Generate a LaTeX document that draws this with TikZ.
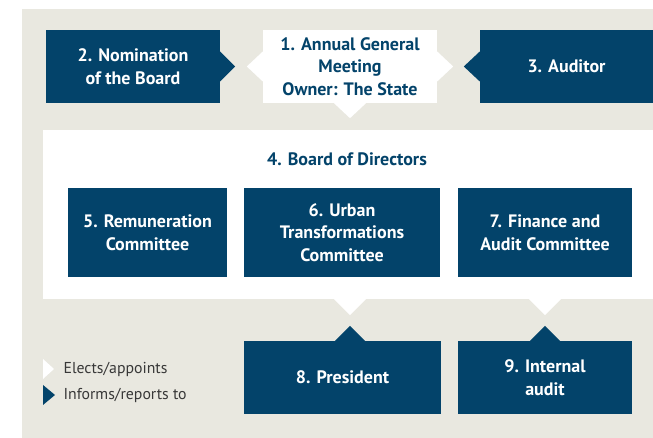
\documentclass[tikz,border=0pt]{standalone}
\usepackage{fontspec}
\setmainfont{PT Sans}
\definecolor{navy}{HTML}{03436A}
\definecolor{sand}{HTML}{E9E8E0}

\begin{document}
\begin{tikzpicture}[x = 1pt, y = 1pt,
		box/.style = {fill = navy, text = white, font = \bfseries\fontsize{18}{22.5}\selectfont, align = center, inner sep = 0pt, minimum height = 73pt},
		wbox/.style = {box, fill = white, text = navy},
		legend/.style = {anchor = west, text = black!78, font = \fontsize{15.8}{18}\selectfont}]
	\useasboundingbox (0,0) rectangle (653,438);
	\fill [sand] (22,0) rectangle (653,429);
	\node [fill = white, minimum width = 610pt, minimum height = 169pt, inner sep = 0pt] (board) at (348,223.5) {};
	\node [text = navy, font = \bfseries\fontsize{18}{20}\selectfont] (boardtitle) at (347,279) {4. Board of Directors};
	\node [box, minimum width = 174pt] (nomination) at (133,371.5) {2. Nomination\\of the Board};
	\node [wbox, minimum width = 174pt] (agm) at (350,371.5) {1. Annual General\\Meeting\\Owner: The State};
	\node [box, minimum width = 173pt] (auditor) at (566.5,371.5) {3. Auditor};
	\node [box, minimum width = 159pt, minimum height = 89pt] (remuneration) at (147.5,205.5) {5. Remuneration\\Committee};
	\node [box, minimum width = 196pt, minimum height = 89pt] (urban) at (342,205.5) {6. Urban\\Transformations\\Committee};
	\node [box, minimum width = 174pt, minimum height = 89pt] (finance) at (545,205.5) {7. Finance and\\Audit Committee};
	\node [box, minimum width = 197pt] (president) at (342.5,60.5) {8. President};
	\node [box, minimum width = 174pt] (audit) at (545,60.5) {9. Internal\\audit};
	\fill [navy] ([yshift = 15pt]nomination.east) -- ++(15,-15) -- ++(-15,-15) -- cycle;
	\fill [white] ([yshift = 15pt]agm.west) -- ++(-16,-15) -- ++(16,-15) -- cycle;
	\fill [white] ([yshift = 15pt]agm.east) -- ++(16,-15) -- ++(-16,-15) -- cycle;
	\fill [navy] ([yshift = 15pt]auditor.west) -- ++(-16,-15) -- ++(16,-15) -- cycle;
	\fill [white] ([xshift = -16pt]agm.south) -- ++(16,-15) -- ++(16,15) -- cycle;
	\fill [white] ([xshift = -16pt]board.south -| agm) -- ++(16,-16) -- ++(16,16) -- cycle;
	\fill [white] ([xshift = -16pt]board.south -| audit) -- ++(16,-16) -- ++(16,16) -- cycle;
	\fill [navy] ([xshift = -15pt]president.north -| agm) -- ++(15,15) -- ++(15,-15) -- cycle;
	\fill [navy] ([xshift = -15pt]audit.north) -- ++(15,15) -- ++(15,-15) -- cycle;
	\fill [white] (43,79) -- (54,69) -- (43,59) -- cycle;
	\fill [navy] (43,53) -- (55,43) -- (43,33) -- cycle;
	\node [legend] (elects) at (60,69) {Elects/appoints};
	\node [legend] (informs) at (60,43) {Informs/reports to};
\end{tikzpicture}
\end{document}
